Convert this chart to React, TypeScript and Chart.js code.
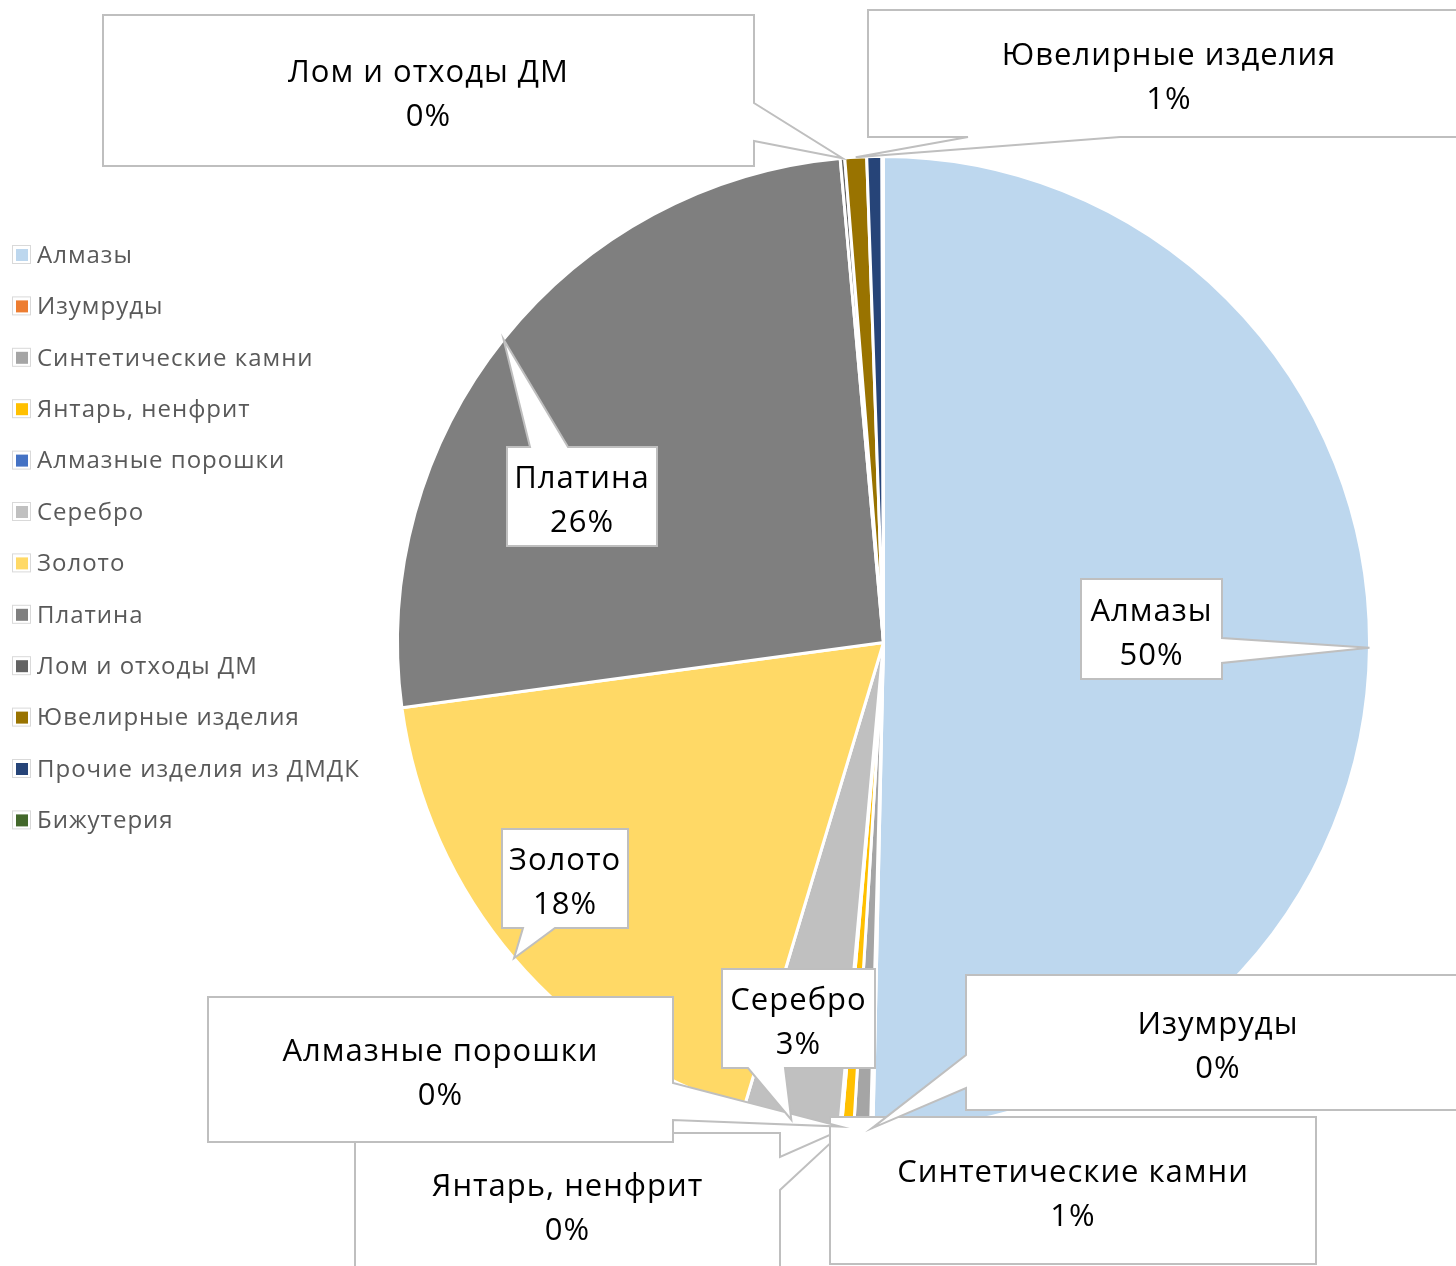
import React, { useEffect, useRef } from 'react';
import { Chart, registerables } from 'chart.js';

Chart.register(...registerables);

const categories = [
  'Алмазы',
  'Изумруды',
  'Синтетические камни',
  'Янтарь, ненфрит',
  'Алмазные порошки',
  'Серебро',
  'Золото',
  'Платина',
  'Лом и отходы ДМ',
  'Ювелирные изделия',
  'Прочие изделия из ДМДК',
  'Бижутерия',
];

const shares = [50.3, 0.08, 0.55, 0.4, 0.06, 3.2, 18.2, 25.7, 0.15, 0.72, 0.5, 0.05];

const sliceColors = [
  '#BDD7EE',
  '#ED7D31',
  '#A5A5A5',
  '#FFC000',
  '#4472C4',
  '#C0C0C0',
  '#FFD966',
  '#7F7F7F',
  '#636363',
  '#997300',
  '#264478',
  '#43682B',
];

type Callout = { idx: number; box: [number, number, number, number]; side: string | null; a: number; b: number };
const callouts: Callout[] = [
  { idx: 3, box: [355, 1133, 780, 1276], side: 'right', a: 1157, b: 1190 },
  { idx: 2, box: [830, 1117, 1316, 1264], side: null, a: 0, b: 0 },
  { idx: 4, box: [208, 997, 673, 1142], side: 'right', a: 1083, b: 1120 },
  { idx: 1, box: [966, 975, 1470, 1110], side: 'left', a: 1055, b: 1088 },
  { idx: 5, box: [722, 969, 875, 1068], side: 'bottom', a: 748, b: 785 },
  { idx: 6, box: [502, 829, 628, 928], side: 'bottom', a: 523, b: 555 },
  { idx: 7, box: [507, 447, 657, 546], side: 'top', a: 530, b: 568 },
  { idx: 0, box: [1081, 579, 1222, 679], side: 'right', a: 638, b: 663 },
  { idx: 8, box: [103, 15, 754, 166], side: 'right', a: 103, b: 141 },
  { idx: 9, box: [868, 10, 1470, 137], side: 'bottom', a: 968, b: 1120 },
];

const FONT = '"Open Sans", "Noto Sans", sans-serif';

const calloutPlugin = {
  id: 'callouts',
  afterDraw(chart: any) {
    const ctx = chart.ctx as CanvasRenderingContext2D;
    const meta = chart.getDatasetMeta(0);
    const values = chart.data.datasets[0].data as number[];
    const total = values.reduce((s, v) => s + v, 0);

    // legend
    ctx.save();
    const labels = chart.data.labels as string[];
    const colors = chart.data.datasets[0].backgroundColor as string[];
    const legTop = 254;
    const legStep = 51.4;
    ctx.font = `24px ${FONT}`;
    (ctx as any).letterSpacing = '1px';
    ctx.textBaseline = 'middle';
    ctx.textAlign = 'left';
    labels.forEach((lab, i) => {
      const y = legTop + i * legStep;
      ctx.fillStyle = '#ffffff';
      ctx.fillRect(12, y - 9, 19, 19);
      ctx.strokeStyle = '#d9d9d9';
      ctx.lineWidth = 1;
      ctx.strokeRect(12.5, y - 8.5, 18, 18);
      ctx.fillStyle = colors[i];
      ctx.fillRect(16, y - 5, 12, 12);
      ctx.fillStyle = '#595959';
      ctx.fillText(lab, 37, y + 2);
    });
    ctx.restore();

    // callouts
    callouts.forEach((c) => {
      const arc = meta.data[c.idx] as any;
      const { x, y, startAngle, endAngle, outerRadius } = arc.getProps(
        ['x', 'y', 'startAngle', 'endAngle', 'outerRadius'],
        true
      );
      const mid = (startAngle + endAngle) / 2;
      const tx = x + Math.cos(mid) * outerRadius;
      const ty = y + Math.sin(mid) * outerRadius;
      const [x0, y0, x1, y1] = c.box;
      ctx.save();
      ctx.beginPath();
      ctx.moveTo(x0, y0);
      if (c.side === 'top') {
        ctx.lineTo(c.a, y0);
        ctx.lineTo(tx, ty);
        ctx.lineTo(c.b, y0);
      }
      ctx.lineTo(x1, y0);
      if (c.side === 'right') {
        ctx.lineTo(x1, c.a);
        ctx.lineTo(tx, ty);
        ctx.lineTo(x1, c.b);
      }
      ctx.lineTo(x1, y1);
      if (c.side === 'bottom') {
        ctx.lineTo(c.b, y1);
        ctx.lineTo(tx, ty);
        ctx.lineTo(c.a, y1);
      }
      ctx.lineTo(x0, y1);
      if (c.side === 'left') {
        ctx.lineTo(x0, c.b);
        ctx.lineTo(tx, ty);
        ctx.lineTo(x0, c.a);
      }
      ctx.closePath();
      ctx.fillStyle = '#ffffff';
      ctx.fill();
      ctx.strokeStyle = '#bfbfbf';
      ctx.lineWidth = 2;
      ctx.lineJoin = 'miter';
      ctx.stroke();

      const pct = Math.round((values[c.idx] / total) * 100) + '%';
      const cx = (x0 + x1) / 2;
      const cy = (y0 + y1) / 2 + 4;
      ctx.fillStyle = '#000000';
      ctx.font = `31px ${FONT}`;
      (ctx as any).letterSpacing = '1px';
      ctx.textAlign = 'center';
      ctx.textBaseline = 'middle';
      ctx.fillText(labels[c.idx], cx, cy - 21);
      ctx.fillText(pct, cx, cy + 23);
      ctx.restore();
    });
  },
};

export default function App() {
  const ref = useRef<HTMLCanvasElement | null>(null);
  useEffect(() => {
    document.body.style.margin = '0';
    const canvas = ref.current!;
    const chart = new Chart(canvas, {
      type: 'pie',
      data: {
        labels: categories,
        datasets: [
          {
            data: shares,
            backgroundColor: sliceColors,
            borderColor: '#ffffff',
            borderWidth: 3,
          },
        ],
      },
      options: {
        animation: false,
        responsive: false,
        layout: { padding: { left: 396, right: 85, top: 155, bottom: 136 } },
        plugins: {
          legend: { display: false },
          tooltip: { enabled: false },
        },
      },
      plugins: [calloutPlugin],
    });
    return () => chart.destroy();
  }, []);
  return (
    <div style={{ width: 1456, height: 1266, background: '#ffffff' }}>
      <canvas ref={ref} width={1456} height={1266} style={{ display: 'block' }} />
    </div>
  );
}
